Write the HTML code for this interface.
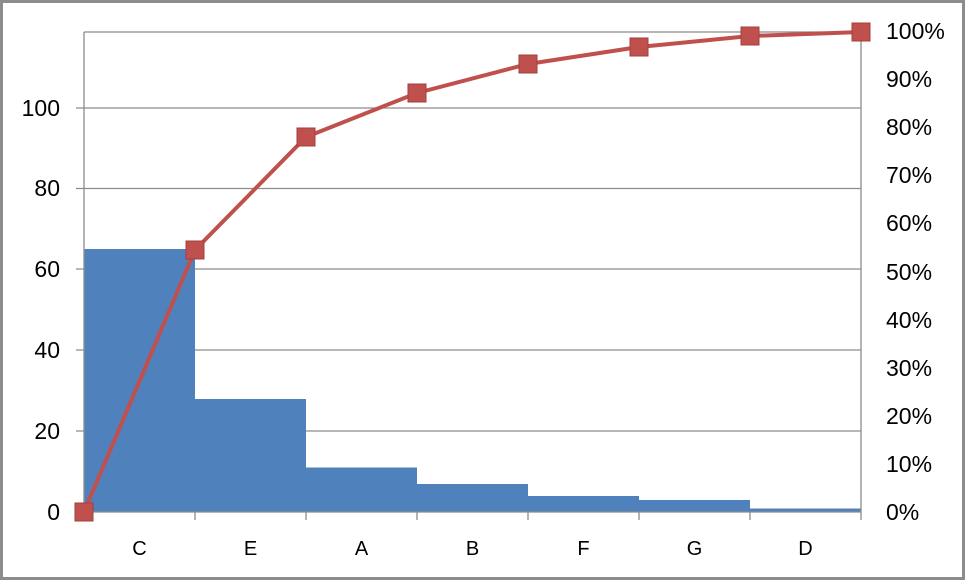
<!DOCTYPE html>
<html><head><style>body{margin:0;background:#fff}svg{display:block}</style></head><body>
<svg width="965" height="581" xmlns="http://www.w3.org/2000/svg" font-family="'Liberation Sans',sans-serif">
<rect x="1.5" y="1.5" width="962" height="577" fill="#fff" stroke="#8c8c8c" stroke-width="3"/>
<g stroke="#8c8c8c" stroke-width="1.3">
<line x1="76" y1="431" x2="861" y2="431"/>
<line x1="76" y1="350" x2="861" y2="350"/>
<line x1="76" y1="269" x2="861" y2="269"/>
<line x1="76" y1="188.5" x2="861" y2="188.5"/>
<line x1="76" y1="108" x2="861" y2="108"/>
<line x1="76" y1="512" x2="84" y2="512"/>
<line x1="84" y1="32" x2="861" y2="32"/>
</g>
<g fill="#4f81bd">
<rect x="84" y="249" width="111" height="263"/>
<rect x="195" y="399" width="111" height="113"/>
<rect x="306" y="467.5" width="111" height="44.5"/>
<rect x="417" y="484" width="111" height="28"/>
<rect x="528" y="496" width="111" height="16"/>
<rect x="639" y="500" width="111" height="12"/>
<rect x="750" y="508.5" width="111" height="3.5"/>
</g>
<g stroke="#8c8c8c" stroke-width="1.3">
<line x1="84" y1="32" x2="84" y2="520"/>
<line x1="861" y1="32" x2="861" y2="520"/>
<line x1="84" y1="512" x2="861" y2="512"/>
<line x1="195" y1="512" x2="195" y2="520"/>
<line x1="306" y1="512" x2="306" y2="520"/>
<line x1="417" y1="512" x2="417" y2="520"/>
<line x1="528" y1="512" x2="528" y2="520"/>
<line x1="639" y1="512" x2="639" y2="520"/>
<line x1="750" y1="512" x2="750" y2="520"/>
</g>
<polyline fill="none" stroke="#c0504d" stroke-width="4" points="84,512 195,250 306,137 417,93 528,64 639,47 750,36 861,32"/>
<g fill="#c0504d" stroke="#a33f3c" stroke-width="1">
<rect x="75" y="503" width="18" height="18"/><rect x="186" y="241" width="18" height="18"/><rect x="297" y="128" width="18" height="18"/><rect x="408" y="84" width="18" height="18"/><rect x="519" y="55" width="18" height="18"/><rect x="630" y="38" width="18" height="18"/><rect x="741" y="27" width="18" height="18"/><rect x="852" y="23" width="18" height="18"/>
</g>
<g font-size="23" fill="#000" text-anchor="end">
<text x="60" y="520">0</text><text x="60" y="439">20</text><text x="60" y="358">40</text><text x="60" y="277">60</text><text x="60" y="196">80</text><text x="60" y="116">100</text>
</g>
<g font-size="23" fill="#000" text-anchor="start">
<text x="886" y="520">0%</text><text x="886" y="472">10%</text><text x="886" y="424">20%</text><text x="886" y="376">30%</text><text x="886" y="328">40%</text><text x="886" y="280">50%</text><text x="886" y="231">60%</text><text x="886" y="183">70%</text><text x="886" y="135">80%</text><text x="886" y="87">90%</text><text x="886" y="39">100%</text>
</g>
<g font-size="20" fill="#000" text-anchor="middle">
<text x="139.5" y="555">C</text><text x="250.5" y="555">E</text><text x="361.5" y="555">A</text><text x="472.5" y="555">B</text><text x="583.5" y="555">F</text><text x="694.5" y="555">G</text><text x="805.5" y="555">D</text>
</g>
</svg>
</body></html>
